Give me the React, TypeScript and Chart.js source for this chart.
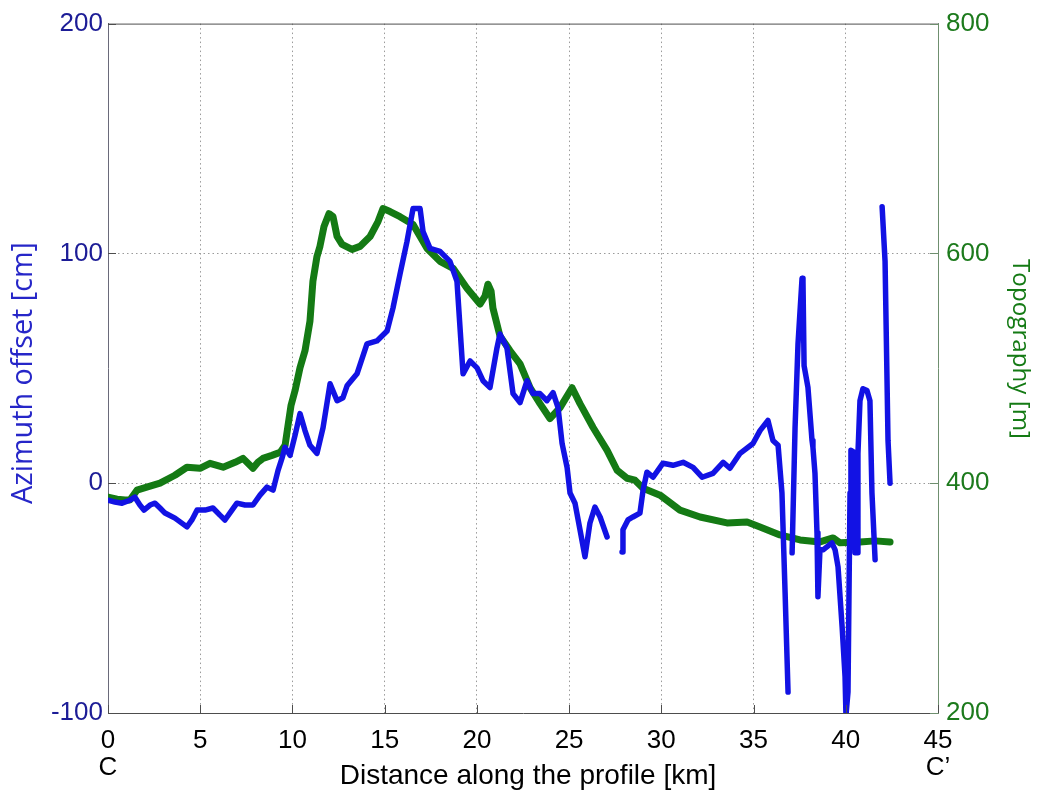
import { useEffect, useRef } from "react";
import { Chart, registerables } from "chart.js";

Chart.register(...registerables);

// Tick values for the three axes
const distanceTicks = [0, 5, 10, 15, 20, 25, 30, 35, 40, 45];
const offsetTicks = [-100, 0, 100, 200];
const topoTicks = [200, 400, 600, 800];
const profileEnds = ["C", "C\u2019"];

// Azimuth offset along the profile (null = no data)
const offsetKm = [
  0.0, 0.38, 0.76, 1.19, 1.46, 1.73, 1.95, 2.28, 2.55, 2.82, 3.09, 3.63, 4.28, 4.55, 4.83,
  5.26, 5.69, 6.07, 6.34, 6.72, 6.99, 7.43, 7.86, 8.24, 8.62, 8.95, 9.22, 9.43, 9.6, 9.87,
  10.14, 10.41, 10.68, 10.95, 11.33, 11.66, 12.04, 12.42, 12.74, 12.96, 13.5, 14.04, 14.58,
  15.13, 15.45, 15.83, 16.21, 16.54, 16.92, 17.08, 17.46, 18.0, 18.54, 18.92, 19.25, 19.63,
  20.01, 20.33, 20.71, 21.09, 21.25, 21.63, 21.96, 22.34, 22.72, 23.04, 23.42, 23.8, 24.13,
  24.4, 24.62, 24.89, 25.05, 25.32, 25.59, 25.86, 26.13, 26.4, 26.68, 27.06, 27.45, 27.87,
  27.92, 28.19, 28.46, 28.84, 29.01, 29.22, 29.55, 30.09, 30.63, 31.18, 31.72, 32.21, 32.8,
  33.35, 33.72, 34.27, 34.97, 35.35, 35.78, 36.05, 36.33, 36.54, 36.71, 36.87, 36.98, 37.09,
  37.25, 37.41, 37.63, 37.68, 37.74, 37.95, 38.17, 38.22, 38.33, 38.44, 38.49, 38.6, 38.77,
  39.25, 39.42, 39.58, 39.8, 39.96, 40.01, 40.12, 40.23, 40.28, 40.45, 40.5, 40.61, 40.66,
  40.77, 40.93, 41.15, 41.31, 41.42, 41.59, 41.78, 41.97, 42.13, 42.29, 42.4,
];
const offsetCm = [
  -7.4, -8.2, -8.7, -7.4, -6.1, -9.5, -11.7, -9.5, -8.7, -10.8, -13.0, -15.2, -19.0, -16.0, -11.7,
  -11.7, -10.8, -13.9, -16.0, -11.7, -8.7, -9.5, -9.5, -5.2, -1.7, -3.0, 5.6, 10.8, 15.6, 12.1,
  20.8, 30.3, 22.9, 16.5, 13.0, 24.2, 43.3, 35.9, 37.2, 42.4, 47.6, 60.6, 61.9,
  66.2, 76.2, 90.9, 105.2, 119.5, 119.5, 109.5, 102.2, 100.9, 96.5, 87.9, 47.6, 53.2,
  50.2, 44.6, 41.6, 58.9, 64.9, 58.9, 39.0, 35.1, 44.6, 39.0, 39.0, 35.9, 39.4,
  32.9, 17.3, 6.9, -4.3, -8.7, -20.3, -32.0, -17.3, -10.4, -14.7, -23.4, null, -29.9,
  -20.3, -16.0, -14.7, -13.0, -3.0, 4.8, 2.6, 8.7, 7.8, 9.1, 6.9, 2.6, 4.3,
  9.1, 6.5, 13.0, 17.3, 22.9, 27.3, 18.6, 16.5, -4.3, -47.6, -90.9, null, -30.3,
  24.2, 60.6, 89.2, 87.9, 51.1, 41.6, 18.6, 15.6, 4.3, -21.6, -49.4, -29.0, -29.0,
  -26.0, -29.0, -36.4, -62.3, -84.0, -101, -90.9, -4.3, 14.3, 13.4, -30.3, -30.3, 13.0,
  35.9, 41.1, 40.3, 35.9, -4.3, -33.3, null, 120.3, 96.5, 18.6, 0,
];

// Topography along the profile
const topoKm = [
  0.0, 0.49, 0.92, 1.19, 1.57, 2.28, 2.82, 3.63, 4.28, 4.99, 5.53, 6.24, 6.89, 7.32, 7.86,
  8.13, 8.4, 8.89, 9.33, 9.6, 9.76, 9.92, 10.14, 10.41, 10.68, 10.95, 11.11, 11.33, 11.49,
  11.71, 11.98, 12.2, 12.42, 12.69, 13.23, 13.66, 14.21, 14.64, 14.91, 15.29, 15.83, 16.54,
  16.92, 17.3, 18.0, 18.71, 19.46, 20.17, 20.44, 20.6, 20.77, 20.87, 21.25, 21.8, 22.34,
  22.88, 23.42, 23.96, 24.51, 25.16, 25.59, 26.3, 27.06, 27.6, 28.14, 28.57, 29.01, 29.93,
  31.01, 32.1, 33.56, 34.65, 35.35, 36.43, 37.52, 38.6, 39.31, 39.69, 40.77, 41.59, 42.4,
];
const topoM = [
  387.9, 386.1, 385.3, 385.3, 393.9, 397.4, 400.0, 406.9, 413.9, 413.0, 417.3, 413.9, 418.2, 421.6, 413.0,
  418.2, 421.6, 424.2, 426.8, 432.9, 450.2, 467.5, 480.5, 500.4, 515.2, 541.1, 575.8, 597.4, 606.1,
  623.4, 634.6, 632.0, 614.7, 607.8, 603.5, 606.1, 614.7, 627.7, 639.0, 636.4, 632.0, 625.1,
  614.7, 604.3, 593.1, 587.0, 569.7, 555.9, 562.8, 573.2, 567.1, 552.4, 528.1, 515.2, 503.9,
  483.1, 469.3, 456.3, 465.8, 483.1, 469.3, 448.5, 428.6, 411.3, 404.3, 402.6, 395.7, 389.6,
  376.6, 370.6, 365.4, 366.2, 361.9, 355.0, 350.6, 348.9, 352.4, 348.1, 348.9, 349.8, 348.9,
];

const BLUE = "rgb(18,18,228)";
const GREEN = "rgb(20,122,20)";
const TICK_FAMILY = '"Liberation Sans", Arial, sans-serif';
const TITLE_FAMILY = '"Open Sans", sans-serif';
const GRID = "#9a9a9a";
const FRAME = "#4d4d4d";

function fittedFont(ctx: CanvasRenderingContext2D, text: string, family: string, length: number) {
  ctx.font = `100px ${family}`;
  const w = ctx.measureText(text).width;
  return `${(100 * length) / w}px ${family}`;
}

function drawRotated(
  ctx: CanvasRenderingContext2D,
  text: string,
  cx: number,
  cy: number,
  angle: number,
  font: string,
  color: string
) {
  ctx.save();
  ctx.translate(cx, cy);
  ctx.rotate(angle);
  ctx.font = font;
  ctx.fillStyle = color;
  ctx.textAlign = "center";
  ctx.textBaseline = "middle";
  ctx.fillText(text, 0, 0);
  ctx.restore();
}

// Top frame edge, inward tick marks and the axis titles
const axisDecor = {
  id: "axisDecor",
  afterDraw(chart: any) {
    const { ctx, chartArea: a } = chart;
    const xs = chart.scales.x;
    const yl = chart.scales.yL;
    const yr = chart.scales.yR;
    ctx.save();
    ctx.lineWidth = 1;
    ctx.strokeStyle = FRAME;
    ctx.beginPath();
    ctx.moveTo(a.left, a.top + 0.5);
    ctx.lineTo(a.right, a.top + 0.5);
    for (const t of xs.ticks) {
      const px = Math.round(xs.getPixelForValue(t.value)) + 0.5;
      ctx.moveTo(px, a.bottom);
      ctx.lineTo(px, a.bottom - 8);
    }
    for (const t of yl.ticks) {
      const py = Math.round(yl.getPixelForValue(t.value)) + 0.5;
      ctx.moveTo(a.left, py);
      ctx.lineTo(a.left + 8, py);
    }
    ctx.stroke();
    ctx.strokeStyle = "#6f8f6f";
    ctx.beginPath();
    for (const t of yr.ticks) {
      const py = Math.round(yr.getPixelForValue(t.value)) + 0.5;
      ctx.moveTo(a.right, py);
      ctx.lineTo(a.right - 8, py);
    }
    ctx.stroke();
    ctx.restore();

    const leftTitle = "Azimuth offset [cm]";
    drawRotated(ctx, leftTitle, 24, 373, -Math.PI / 2, fittedFont(ctx, leftTitle, TITLE_FAMILY, 262), "rgb(38,38,200)");
    const rightTitle = "Topography [m]";
    drawRotated(ctx, rightTitle, 1020, 349, Math.PI / 2, fittedFont(ctx, rightTitle, TITLE_FAMILY, 180), GREEN);
    drawRotated(ctx, "Distance along the profile [km]", 528, 776, 0, `28px ${TICK_FAMILY}`, "#000");
  },
};

const edgeAware = (first: number, last: number) => (c: any) => {
  const v = c.tick ? c.tick.value : NaN;
  return v === first || v === last ? "rgba(0,0,0,0)" : GRID;
};

export default function App() {
  const canvasRef = useRef<HTMLCanvasElement | null>(null);

  useEffect(() => {
    const canvas = canvasRef.current;
    if (!canvas) return;
    const chart = new Chart(canvas, {
      type: "line",
      data: {
        datasets: [
          {
            label: "Azimuth offset",
            data: offsetKm.map((k, i) => ({ x: k, y: offsetCm[i] })),
            yAxisID: "yL",
            borderColor: BLUE,
            backgroundColor: BLUE,
            borderWidth: 5.5,
            pointRadius: 0,
            tension: 0,
            spanGaps: false,
            borderJoinStyle: "round",
            borderCapStyle: "round",
            order: 0,
          },
          {
            label: "Topography",
            data: topoKm.map((k, i) => ({ x: k, y: topoM[i] })),
            yAxisID: "yR",
            borderColor: GREEN,
            backgroundColor: GREEN,
            borderWidth: 7,
            pointRadius: 0,
            tension: 0,
            borderJoinStyle: "round",
            borderCapStyle: "round",
            order: 1,
          },
        ],
      },
      options: {
        animation: false,
        responsive: false,
        devicePixelRatio: 1,
        layout: { padding: { top: 22, left: 0, right: 0, bottom: 0 } },
        plugins: { legend: { display: false }, tooltip: { enabled: false } },
        scales: {
          x: {
            type: "linear",
            min: 0,
            max: 45,
            afterBuildTicks: (s: any) => {
              s.ticks = distanceTicks.map((v) => ({ value: v }));
            },
            afterFit: (s: any) => {
              s.height = 80;
            },
            ticks: {
              color: "#000",
              padding: 14,
              maxRotation: 0,
              autoSkip: false,
              font: { family: TICK_FAMILY, size: 26, lineHeight: 1.04 },
              callback: (v: any) => {
                if (v === distanceTicks[0]) return [String(v), profileEnds[0]];
                if (v === distanceTicks[distanceTicks.length - 1]) return [String(v), profileEnds[1]];
                return String(v);
              },
            },
            grid: {
              color: edgeAware(distanceTicks[0], distanceTicks[distanceTicks.length - 1]),
              lineWidth: 1,
              drawTicks: false,
            },
            border: { display: true, color: FRAME, width: 1, dash: [1.5, 3] },
          },
          yL: {
            type: "linear",
            position: "left",
            min: -100,
            max: 200,
            afterBuildTicks: (s: any) => {
              s.ticks = offsetTicks.map((v) => ({ value: v }));
            },
            afterFit: (s: any) => {
              s.width = 108;
            },
            ticks: {
              color: "rgb(28,28,150)",
              padding: 5,
              font: { family: TICK_FAMILY, size: 26 },
            },
            grid: {
              color: edgeAware(offsetTicks[0], offsetTicks[offsetTicks.length - 1]),
              lineWidth: 1,
              drawTicks: false,
            },
            border: { display: true, color: "#6a6a7a", width: 1, dash: [1.5, 3] },
          },
          yR: {
            type: "linear",
            position: "right",
            min: 200,
            max: 800,
            afterBuildTicks: (s: any) => {
              s.ticks = topoTicks.map((v) => ({ value: v }));
            },
            afterFit: (s: any) => {
              s.width = 103;
            },
            ticks: {
              color: "rgb(28,122,28)",
              padding: 8,
              font: { family: TICK_FAMILY, size: 26 },
            },
            grid: { drawOnChartArea: false, drawTicks: false },
            border: { display: true, color: "#6f8f6f", width: 1 },
          },
        },
      },
      plugins: [axisDecor],
    } as any);
    return () => chart.destroy();
  }, []);

  return (
    <div style={{ position: "fixed", left: 0, top: 0, width: 1041, height: 793, background: "#fff" }}>
      <canvas ref={canvasRef} width={1041} height={793} style={{ display: "block" }} />
    </div>
  );
}
